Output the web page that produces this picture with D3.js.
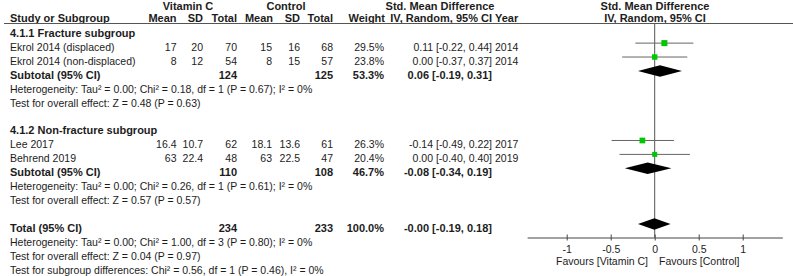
<!DOCTYPE html>
<html>
<head>
<meta charset="utf-8">
<script src="https://d3js.org/d3.v7.min.js"></script>
<style>
  body { margin: 0; background: #fff; }
  svg text { font-family: "Liberation Sans", Arial, sans-serif; font-size: 10.5px; fill: #1c1c1c; }
  svg text.bold { font-weight: bold; font-size: 11px; }
</style>
</head>
<body>
<svg id="forest" width="793" height="276"></svg>
<script>
// ---- data ----
const studyNames = ["Ekrol 2014 (displaced)", "Ekrol 2014 (non-displaced)", "Lee 2017", "Behrend 2019"];
const studyGroup = [0, 0, 1, 1];
const vitMean = [17, 8, 16.4, 63];
const vitSD = [20, 12, 10.7, 22.4];
const vitN = [70, 54, 62, 48];
const ctlMean = [15, 8, 18.1, 63];
const ctlSD = [16, 15, 13.6, 22.5];
const ctlN = [68, 57, 61, 47];
const weights = [29.5, 23.8, 26.3, 20.4];
const smd = [0.11, 0.00, -0.14, 0.00];
const ciLo = [-0.22, -0.37, -0.49, -0.40];
const ciHi = [0.44, 0.37, 0.22, 0.40];
const years = [2014, 2014, 2017, 2019];

const groupLabels = ["4.1.1 Fracture subgroup", "4.1.2 Non-fracture subgroup"];
const subVitN = [124, 110];
const subCtlN = [125, 108];
const subWeight = [53.3, 46.7];
const subSmd = [0.06, -0.08];
const subLo = [-0.19, -0.34];
const subHi = [0.31, 0.19];
const subHet = ["Heterogeneity: Tau² = 0.00; Chi² = 0.18, df = 1 (P = 0.67); I² = 0%",
                "Heterogeneity: Tau² = 0.00; Chi² = 0.26, df = 1 (P = 0.61); I² = 0%"];
const subZ = ["Test for overall effect: Z = 0.48 (P = 0.63)",
              "Test for overall effect: Z = 0.57 (P = 0.57)"];

const totVitN = 234, totCtlN = 233, totWeight = 100.0;
const totSmd = -0.004, totLo = -0.19, totHi = 0.18;
const totNotes = ["Heterogeneity: Tau² = 0.00; Chi² = 1.00, df = 3 (P = 0.80); I² = 0%",
                  "Test for overall effect: Z = 0.04 (P = 0.97)",
                  "Test for subgroup differences: Chi² = 0.56, df = 1 (P = 0.46), I² = 0%"];

const axisTicks = [-1, -0.5, 0, 0.5, 1];

// ---- layout ----
const svg = d3.select("svg#forest");
const fmt = v => (v < 0 ? "-" : "") + Math.abs(v).toFixed(2);
const ciText = (m, l, h) => `${fmt(m)} [${fmt(l)}, ${fmt(h)}]`;

const col = {name: 10, vitMean: 176.5, vitSD: 203, vitN: 237, ctlMean: 272, ctlSD: 300,
             ctlN: 333, weight: 384, ci: 492, year: 495};

const rowY = d3.scaleLinear().domain([0, 17]).range([33, 269.5]);
const markOff = -3.8;
const x = d3.scaleLinear().domain([-1.45, 1.45]).range([527.1, 782.3]);
const boxSize = d3.scaleSqrt().domain([0, 30]).range([0, 6.1]);
const headLineY = 23.5, axisY = 237.5;

// build row list
let rows = [];
let r = 0;
[0, 1].forEach(g => {
  rows.push({type: "group", g: g, i: r++});
  studyNames.forEach((n, k) => { if (studyGroup[k] === g) rows.push({type: "study", k: k, i: r++}); });
  rows.push({type: "subtotal", g: g, i: r++});
  rows.push({type: "note", text: subHet[g], i: r++});
  rows.push({type: "note", text: subZ[g], i: r++});
  r++;
});
rows.push({type: "total", i: r++});
totNotes.forEach(t => rows.push({type: "note", text: t, i: r++}));

function txt(xp, yp, s, anchor, bold) {
  svg.append("text").attr("x", xp).attr("y", yp).attr("text-anchor", anchor || "start")
     .attr("class", bold ? "bold" : null).text(s);
}

// headers
txt(188, 10, "Vitamin C", "middle", true);
txt(286, 10, "Control", "middle", true);
txt(440, 10, "Std. Mean Difference", "middle", true);
txt(655, 10, "Std. Mean Difference", "middle", true);
txt(col.name, 21.5, "Study or Subgroup", "start", true);
txt(col.vitMean, 21.5, "Mean", "end", true);
txt(col.vitSD, 21.5, "SD", "end", true);
txt(col.vitN, 21.5, "Total", "end", true);
txt(col.ctlMean + 1, 21.5, "Mean", "end", true);
txt(col.ctlSD, 21.5, "SD", "end", true);
txt(col.ctlN, 21.5, "Total", "end", true);
txt(col.weight + 1, 21.5, "Weight", "end", true);
txt(col.ci, 21.5, "IV, Random, 95% CI", "end", true);
txt(col.year, 21.5, "Year", "start", true);
txt(655, 21.5, "IV, Random, 95% CI", "middle", true);

svg.append("line").attr("x1", 4).attr("x2", 793).attr("y1", headLineY).attr("y2", headLineY)
   .attr("stroke", "#555").attr("stroke-width", 1);

// zero line
svg.append("line").attr("x1", x(0)).attr("x2", x(0)).attr("y1", headLineY).attr("y2", axisY)
   .attr("stroke", "#555").attr("stroke-width", 1);

const diamond = (m, l, h, yc) => {
  const hh = 5.8;
  return `M${x(l)},${yc} L${x(m)},${yc - hh} L${x(h)},${yc} L${x(m)},${yc + hh} Z`;
};

rows.forEach(row => {
  const yb = rowY(row.i) + 4;
  const ym = rowY(row.i) + markOff;
  if (row.type === "group") {
    txt(col.name, yb, groupLabels[row.g], "start", true);
  } else if (row.type === "note") {
    txt(col.name, yb, row.text, "start", false);
  } else if (row.type === "study") {
    const k = row.k;
    txt(col.name, yb, studyNames[k]);
    txt(col.vitMean, yb, String(vitMean[k]), "end");
    txt(col.vitSD, yb, String(vitSD[k]), "end");
    txt(col.vitN, yb, String(vitN[k]), "end");
    txt(col.ctlMean, yb, String(ctlMean[k]), "end");
    txt(col.ctlSD, yb, String(ctlSD[k]), "end");
    txt(col.ctlN, yb, String(ctlN[k]), "end");
    txt(col.weight, yb, weights[k].toFixed(1) + "%", "end");
    txt(col.ci, yb, ciText(smd[k], ciLo[k], ciHi[k]), "end");
    txt(col.year, yb, String(years[k]));
    svg.append("line").attr("x1", x(ciLo[k])).attr("x2", x(ciHi[k])).attr("y1", ym).attr("y2", ym)
       .attr("stroke", "#666").attr("stroke-width", 1);
    const s = boxSize(weights[k]);
    svg.append("rect").attr("x", x(smd[k]) - s / 2).attr("y", ym - s / 2)
       .attr("width", s).attr("height", s).attr("fill", "#00c800");
  } else if (row.type === "subtotal") {
    const g = row.g;
    txt(col.name, yb, "Subtotal (95% CI)", "start", true);
    txt(col.vitN, yb, String(subVitN[g]), "end", true);
    txt(col.ctlN, yb, String(subCtlN[g]), "end", true);
    txt(col.weight, yb, subWeight[g].toFixed(1) + "%", "end", true);
    txt(col.ci, yb, ciText(subSmd[g], subLo[g], subHi[g]), "end", true);
    svg.append("path").attr("d", diamond(subSmd[g], subLo[g], subHi[g], ym)).attr("fill", "#000");
  } else if (row.type === "total") {
    txt(col.name, yb, "Total (95% CI)", "start", true);
    txt(col.vitN, yb, String(totVitN), "end", true);
    txt(col.ctlN, yb, String(totCtlN), "end", true);
    txt(col.weight, yb, totWeight.toFixed(1) + "%", "end", true);
    txt(col.ci, yb, ciText(totSmd, totLo, totHi), "end", true);
    svg.append("path").attr("d", diamond(totSmd, totLo, totHi, ym)).attr("fill", "#000");
  }
});

// axis
const axis = d3.axisBottom(x).tickValues(axisTicks).tickSizeOuter(0).tickSizeInner(3)
  .tickFormat(d => d === 0 ? "0" : String(d).replace("−", "-"));
const ax = svg.append("g").attr("transform", `translate(0,${axisY})`).call(axis);
ax.select(".domain").attr("stroke", "#444");
ax.selectAll(".tick line").attr("y1", -3).attr("y2", 3).attr("stroke", "#444");
ax.selectAll(".tick text").attr("y", 8).attr("font-size", null).attr("font-family", null);

txt(648, 264.5, "Favours [Vitamin C]", "end");
txt(659, 264.5, "Favours [Control]", "start");
</script>
</body>
</html>
